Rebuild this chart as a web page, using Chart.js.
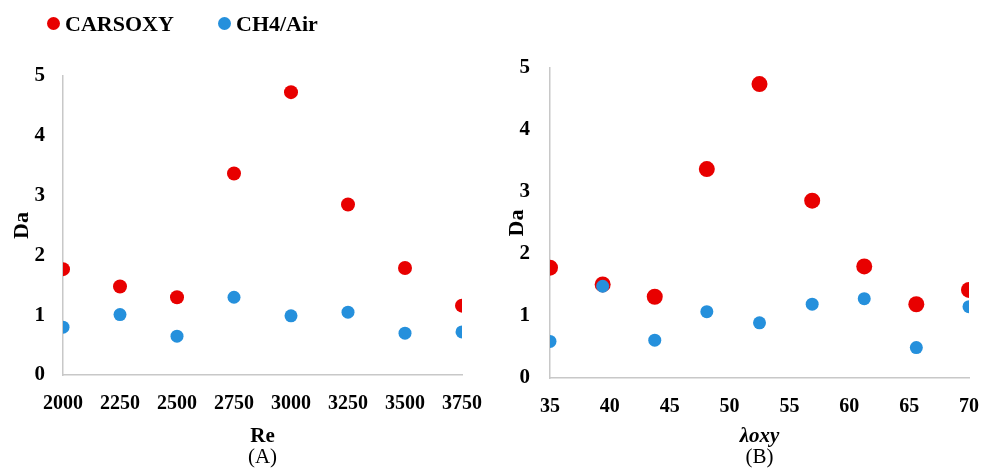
<!DOCTYPE html>
<html>
<head>
<meta charset="utf-8">
<script src="https://cdn.jsdelivr.net/npm/chart.js@4.4.0/dist/chart.umd.min.js"></script>
<style>
  body { margin: 0; background: #fff; }
  #wrap { position: relative; width: 982px; height: 468px; font-family: "Liberation Serif", "DejaVu Serif", serif; }
  #chartA { position: absolute; left: 0; top: 0; }
  #chartB { position: absolute; left: 490px; top: 0; }
  .legend { position: absolute; top: 11px; font-weight: bold; font-size: 22px; line-height: 26px; }
  .legend span.dot { display: inline-block; width: 13px; height: 13px; border-radius: 50%; vertical-align: middle; margin-right: 5px; position: relative; top: -2px; }
</style>
</head>
<body>
<div id="wrap">
  <canvas id="chartA" width="490" height="468"></canvas>
  <canvas id="chartB" width="492" height="468"></canvas>
  <div class="legend" style="left:47px"><span class="dot" style="background:#e80000"></span>CARSOXY</div>
  <div class="legend" style="left:218px"><span class="dot" style="background:#2590dc"></span>CH4/Air</div>
</div>
<script>
const seriesNames = ["CARSOXY", "CH4/Air"];
const colors = ["#e80000", "#2590dc"];

// (A) Da vs Re
const reValues = [2000, 2250, 2500, 2750, 3000, 3250, 3500, 3750];
const daCarsoxyA = [1.77, 1.48, 1.30, 3.37, 4.73, 2.85, 1.79, 1.16];
const daCh4A = [0.80, 1.01, 0.65, 1.30, 0.99, 1.05, 0.70, 0.72];

// (B) Da vs lambda oxy
const lambdaValues = [35, 39.4, 43.75, 48.1, 52.5, 56.9, 61.25, 65.6, 70];
const daCarsoxyB = [1.78, 1.51, 1.31, 3.37, 4.74, 2.86, 1.80, 1.19, 1.42];
const daCh4B = [0.59, 1.48, 0.61, 1.07, 0.89, 1.19, 1.28, 0.49, 1.15];

const lambdaTicks = [35, 40, 45, 50, 55, 60, 65, 70];
const yTicks = [0, 1, 2, 3, 4, 5];

function pts(xs, ys) {
  return xs.map((x, i) => ({ x: x, y: ys[i] }));
}

const tickFont = { family: "Liberation Serif", size: 20, weight: "bold" };

function makeChart(id, xs, redVals, blueVals, opts) {
  const ctx = document.getElementById(id).getContext("2d");
  return new Chart(ctx, {
    type: "scatter",
    data: {
      datasets: [
        {
          label: seriesNames[0],
          data: pts(xs, redVals),
          backgroundColor: colors[0],
          borderWidth: 0,
          pointRadius: opts.redR,
          order: 1,
        },
        {
          label: seriesNames[1],
          data: pts(xs, blueVals),
          backgroundColor: colors[1],
          borderWidth: 0,
          pointRadius: 6.5,
          order: 0,
        },
      ],
    },
    options: {
      responsive: false,
      animation: false,
      layout: { autoPadding: false, padding: { top: opts.top, right: opts.right, bottom: 0, left: 0 } },
      plugins: {
        legend: { display: false },
        tooltip: { enabled: false },
        subtitle: {
          display: true,
          position: "bottom",
          fullSize: false,
          text: opts.sub,
          color: "#000",
          padding: 0,
          font: { family: "Liberation Serif", size: 21, weight: "normal", lineHeight: 1 },
        },
      },
      scales: {
        x: {
          type: "linear",
          min: opts.xMin,
          max: opts.xMax,
          afterBuildTicks: (s) => { s.ticks = opts.xTicks.map((v) => ({ value: v })); },
          afterFit: (s) => { s.height = opts.xH; },
          grid: { display: true, drawOnChartArea: false, drawTicks: true, tickLength: 14, color: "transparent", tickColor: "transparent" },
          border: { display: true, color: "#c8c8c8", width: 1.5 },
          ticks: {
            color: "#000", font: tickFont, padding: 3, maxRotation: 0, autoSkip: false,
            callback: (v) => String(v),
          },
          title: {
            display: true,
            text: opts.xTitle,
            color: "#000",
            padding: 0,
            font: { family: "Liberation Serif", size: 21, weight: "bold", style: opts.xStyle, lineHeight: 1 },
          },
        },
        y: {
          min: 0,
          max: 5,
          afterBuildTicks: (s) => { s.ticks = yTicks.map((v) => ({ value: v })); },
          afterFit: (s) => { s.width = opts.yW; },
          grid: { display: false, drawTicks: false },
          border: { display: true, color: "#c8c8c8", width: 1.5 },
          ticks: { color: "#000", font: { family: "Liberation Serif", size: 21, weight: "bold" }, padding: opts.yPad },
          title: {
            display: true,
            text: "Da",
            color: "#000",
            padding: { top: opts.yTitlePad, bottom: 0 },
            font: { family: "Liberation Serif", size: 22, weight: "bold", lineHeight: 1.2 },
          },
        },
      },
    },
  });
}

makeChart("chartA", reValues, daCarsoxyA, daCh4A, {
  top: 76, right: 28, sub: "(A)", xMin: 2000, xMax: 3750, xTicks: reValues,
  xH: 72, xTitle: "Re", xStyle: "normal", yW: 63, yPad: 18, yTitlePad: 9, redR: 7,
});

makeChart("chartB", lambdaValues, daCarsoxyB, daCh4B, {
  top: 68, right: 0, sub: "(B)", xMin: 35, xMax: 70, xTicks: lambdaTicks,
  xH: 69, xTitle: "λoxy", xStyle: "italic", yW: 60, yPad: 20, yTitlePad: 14, redR: 8,
});
</script>
</body>
</html>
